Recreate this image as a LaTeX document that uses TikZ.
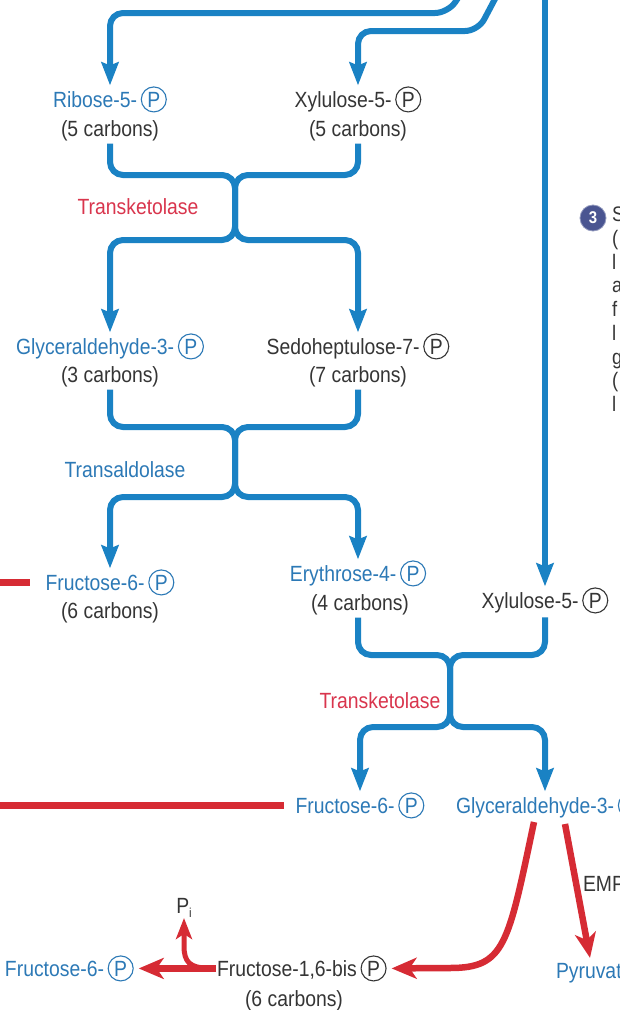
\documentclass[tikz,border=0pt]{standalone}
\usepackage{fontspec}
\setmainfont{Liberation Sans}[FakeStretch=0.88]
\usetikzlibrary{arrows.meta,calc}

\definecolor{flowblue}{HTML}{1A82C4}
\definecolor{labelblue}{HTML}{2C79B6}
\definecolor{labeldark}{HTML}{353535}
\definecolor{flowred}{HTML}{D62B34}
\definecolor{enzred}{HTML}{D9354D}
\definecolor{stepnavy}{HTML}{4A5591}

\newcommand{\labelfont}{\fontsize{22}{26}\selectfont}
% circled phosphate group, drawn in the surrounding text colour
\newcommand{\circP}{\,\tikz[baseline=(cp.base)]\node[circle,draw,line width=1.1pt,inner sep=0pt,minimum size=25pt,font=\labelfont](cp){P};}

\begin{document}
\begin{tikzpicture}[x=1pt,y=-1pt,
  lbl/.style={font=\labelfont, inner sep=1pt, outer sep=0pt, anchor=base},
  namebl/.style={lbl, text=labelblue},
  namedk/.style={lbl, text=labeldark},
  carb/.style={lbl, text=labeldark, inner sep=3pt},
  enzyme/.style={font=\labelfont, inner sep=0pt},
  flow/.style={draw=flowblue, line width=6pt, rounded corners=13pt},
  flowarrow/.style={flow, -{Stealth[length=23pt,width=17pt,inset=3pt]}},
  redline/.style={draw=flowred, line width=6.5pt},
  redarrow/.style={redline, -{Stealth[length=25pt,width=21pt,inset=7pt]}},
  smallred/.style={redline, line width=5pt, -{Stealth[length=21pt,width=16pt,inset=5pt]}}]

\useasboundingbox (0,0) rectangle (620,1010);
\fill[white] (0,0) rectangle (620,1010);
\clip (0,0) rectangle (620,1010);

% ---- metabolites ----
\node[namebl] (rib)  at (110,107) {Ribose-5-\circP};
\node[carb]   (ribc) at (110,136) {(5 carbons)};
\node[namedk] (xyl)  at (358,107) {Xylulose-5-\circP};
\node[carb]   (xylc) at (358,136) {(5 carbons)};

\node[namebl] (gly)  at (110,354) {Glyceraldehyde-3-\circP};
\node[carb]   (glyc) at (110,382) {(3 carbons)};
\node[namedk] (sed)  at (358,354) {Sedoheptulose-7-\circP};
\node[carb]   (sedc) at (358,382) {(7 carbons)};

\node[namebl] (fru)  at (110,590) {Fructose-6-\circP};
\node[carb]   (fruc) at (110,618) {(6 carbons)};
\node[namebl] (ery)  at (358,581) {Erythrose-4-\circP};
\node[carb]   (eryc) at (360,610) {(4 carbons)};
\node[namedk] (xyl2) at (545,608) {Xylulose-5-\circP};

\node[namebl] (fru2) at (360,813) {Fructose-6-\circP};
\node[namebl, anchor=base west] (gly2) at (455,813) {Glyceraldehyde-3-\circP};

\node[namedk, anchor=base west] (emp) at (582,891) {EMP};
\node[namebl, anchor=base west] (pyr) at (555,978) {Pyruvate};

\node[namedk, anchor=base west] (fbp) at (216,976) {Fructose-1,6-bis\circP};
\node[carb]   (fbpc) at (294,1006) {(6 carbons)};
\node[namebl, anchor=base west] (fru3) at (4,976) {Fructose-6-\circP};
\node[namedk] (pi) at (184,913) {P\raisebox{-4pt}{\fontsize{13}{13}\selectfont i}};

% ---- enzymes ----
\node[enzyme, text=enzred]    (tk1) at (138,207) {Transketolase};
\node[enzyme, text=labelblue] (ta)  at (125,470) {Transaldolase};
\node[enzyme, text=enzred]    (tk2) at (380,701) {Transketolase};

% ---- step marker and its text ----
\node[circle, fill=stepnavy, draw=stepnavy!60, line width=0.8pt, minimum size=26pt,
      inner sep=0pt, text=white, font=\bfseries\fontsize{17}{17}\selectfont] (s3) at (593,218) {3};
\node[anchor=north west, align=left, text=labeldark, inner sep=0pt,
      font=\fontsize{21}{23.7}\selectfont] (s3txt) at (612,207)
      {S\\(\\l\\a\\f\\l\\g\\(\\l};

% ---- incoming blue flows ----
\coordinate (in1) at (470,-20);
\coordinate (in2) at (505,-20);
\coordinate (in3) at (545,-10);
\coordinate (c1) at (448,13);
\coordinate (c2) at (478,31);
\draw[flowarrow] (in1) -- (c1) -- (rib.north |- c1) -- (rib.north);
\draw[flowarrow] (in2) -- (c2) -- (xyl.north |- c2) -- (xyl.north);
\draw[flowarrow] (in3) -- (xyl2.north);

% ---- transketolase: R5P + Xu5P -> G3P + S7P ----
\coordinate (j1t) at (235,175);
\coordinate (j1b) at (235,240);
\draw[flowarrow] (ribc.south) -- (ribc.south |- j1t) -- (j1t) -- (j1b) -- (gly.north |- j1b) -- (gly.north);
\draw[flowarrow] (xylc.south) -- (xylc.south |- j1t) -- (j1t) -- (j1b) -- (sed.north |- j1b) -- (sed.north);

% ---- transaldolase: G3P + S7P -> F6P + E4P ----
\coordinate (j2t) at (235,427);
\coordinate (j2b) at (235,497);
\draw[flowarrow] (glyc.south) -- (glyc.south |- j2t) -- (j2t) -- (j2b) -- (fru.north |- j2b) -- (fru.north);
\draw[flowarrow] (sedc.south) -- (sedc.south |- j2t) -- (j2t) -- (j2b) -- (ery.north |- j2b) -- (ery.north);

% ---- transketolase: E4P + Xu5P -> F6P + G3P ----
\coordinate (j3t) at (450,655);
\coordinate (j3b) at (450,727);
\draw[flowarrow] ([xshift=-2pt]eryc.south) -- ([xshift=-2pt]eryc.south |- j3t) -- (j3t) -- (j3b) -- (fru2.north |- j3b) -- (fru2.north);
\draw[flowarrow] ([yshift=-3pt]xyl2.south) -- (xyl2.south |- j3t) -- (j3t) -- (j3b) -- (j3b -| xyl2.south) -- (gly2.north -| xyl2.south);

% ---- red flows ----
\coordinate (edge) at (-10,0);
\draw[redline, shorten >=15pt] (fru.west -| edge) -- (fru.west);
\draw[redline, shorten >=11pt] (fru2.west -| edge) -- (fru2.west);

\coordinate (g2a) at (534,822);
\coordinate (g2b) at (565,824);
\draw[redarrow, shorten >=4pt] (g2a) .. controls (508,945) and (505,968) .. (450,968) -- (fbp.east);
\draw[redarrow] (g2b) -- ($(pyr.north west)+(35,-4)$);

\coordinate (br) at (208,968);
\draw[redarrow, shorten >=4pt] (fbp.west) -- (fru3.east);
\draw[smallred] (br) .. controls (190,968) and (184,962) .. (184,946) -- (pi.south);

\end{tikzpicture}
\end{document}
